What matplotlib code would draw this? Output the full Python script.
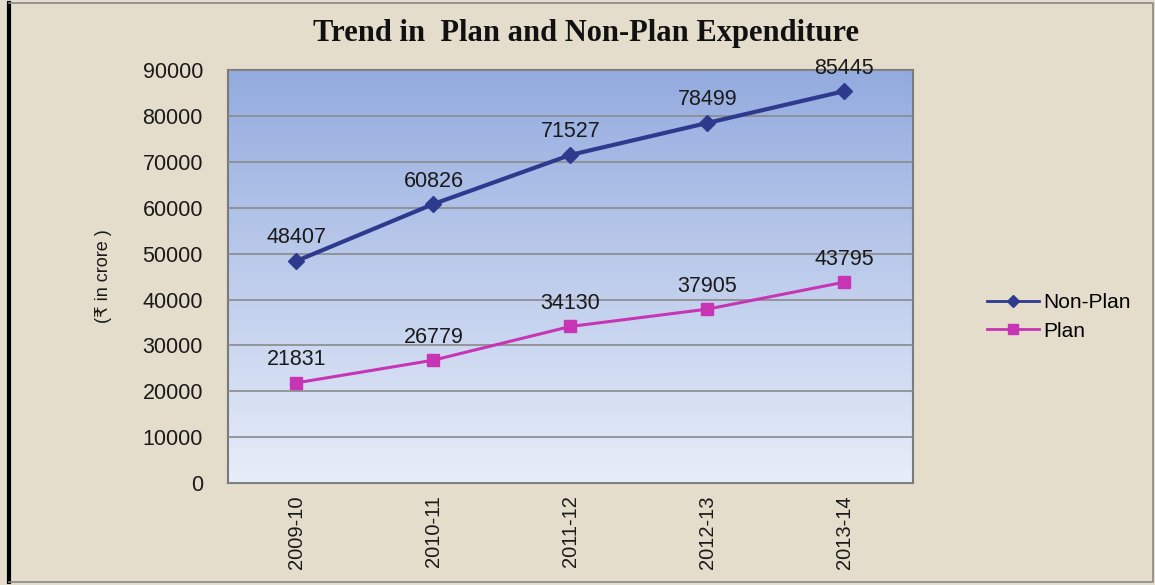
import matplotlib

matplotlib.use("Agg")
import matplotlib.pyplot as plt
import numpy as np
from matplotlib.colors import LinearSegmentedColormap
from matplotlib.lines import Line2D

years = ["2009-10", "2010-11", "2011-12", "2012-13", "2013-14"]
non_plan = [48407, 60826, 71527, 78499, 85445]
plan = [21831, 26779, 34130, 37905, 43795]

plt.rcParams["font.family"] = ["Liberation Sans", "DejaVu Sans"]

fig = plt.figure(figsize=(11.55, 5.85), dpi=100)
fig.patch.set_facecolor("#e4ddcb")
ax = fig.add_axes([0.1974, 0.1744, 0.593, 0.7056])

# blue-to-pale gradient behind the plot area
grad_cmap = LinearSegmentedColormap.from_list("bg", ["#e8eef9", "#93abdf"])
ax.imshow(np.linspace(0, 1, 256).reshape(-1, 1), cmap=grad_cmap, aspect="auto",
          extent=[0, 1, 0, 1], transform=ax.transAxes, origin="lower", zorder=0)

x = np.arange(len(years))
ax.plot(x, non_plan, color="#2e3a8e", lw=3, marker="D", ms=8, zorder=4)
ax.plot(x, plan, color="#c735b5", lw=2.2, marker="s", ms=9, zorder=4)

for series in (non_plan, plan):
    for xi, v in zip(x, series):
        ax.annotate(str(v), (xi, v), textcoords="offset points", xytext=(0, 9),
                    ha="center", va="bottom", fontsize=15.5, color="#1a1a1a")

ax.set_xlim(-0.5, len(years) - 0.5)
ax.set_ylim(0, 90000)
ax.set_yticks(range(0, 90001, 10000))
ax.set_xticks(x)
ax.set_xticklabels(years, rotation=90)
ax.tick_params(axis="both", length=0, colors="#1a1a1a")
ax.tick_params(axis="y", pad=18, labelsize=15.5)
ax.tick_params(axis="x", pad=9, labelsize=14.5)
ax.grid(axis="y", color="#8a8a8a", lw=1.2, zorder=1)
ax.set_axisbelow(False)
for s in ax.spines.values():
    s.set_color("#7a7a7a")
    s.set_linewidth(1.5)

ax.set_ylabel("(\u20b9 in crore )", fontsize=13, color="#1a1a1a", labelpad=22)

fig.text(0.507, 0.943, "Trend in  Plan and Non-Plan Expenditure",
         family="Liberation Serif", weight="bold", fontsize=22,
         ha="center", va="center", color="#111111")

handles = [
    Line2D([], [], color="#2e3a8e", lw=2, marker="D", ms=6),
    Line2D([], [], color="#c735b5", lw=2, marker="s", ms=7),
]
fig.legend(handles, ["Non-Plan", "Plan"], loc="center left",
           bbox_to_anchor=(0.838, 0.458), frameon=False, fontsize=15,
           handlelength=2.5, handletextpad=0.2, labelspacing=0.45)

# frame around the figure, heavy on the left
fig.add_artist(Line2D([0.008, 0.008], [0.005, 0.995], color="black", lw=3,
                      transform=fig.transFigure))
fig.add_artist(Line2D([0.008, 0.998, 0.998, 0.008], [0.995, 0.995, 0.005, 0.005],
                      color="#888888", lw=1.2, transform=fig.transFigure))

fig.savefig("out.png", dpi=100, facecolor=fig.get_facecolor())
